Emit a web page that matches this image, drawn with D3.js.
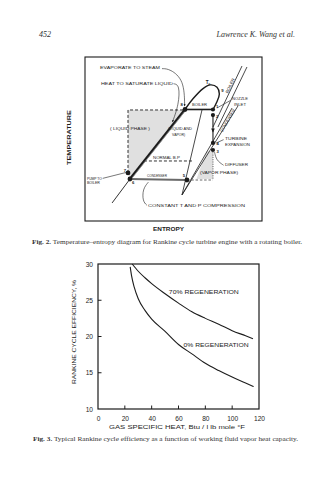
<!DOCTYPE html>
<html><head><meta charset="utf-8">
<script src="https://cdn.jsdelivr.net/npm/d3@7"></script>
<style>body{margin:0;background:#fff}svg{display:block}</style>
</head><body><svg id="page" width="335" height="480"></svg>
<script>
// ---- Fig. 3: Rankine cycle efficiency vs. gas specific heat ----
const heatCapacity0 = [24, 25, 27, 30, 35, 40, 50, 60, 70, 80, 90, 100, 110, 116];
const efficiency0   = [29.6, 28.4, 26.8, 25.2, 23.6, 22.4, 20.7, 18.9, 17.6, 16.3, 15.3, 14.4, 13.6, 13.1];
const heatCapacity70 = [25.5, 30, 35, 40, 50, 60, 70, 80, 90, 100, 110, 115.5];
const efficiency70   = [30.0, 29.0, 28.1, 27.3, 25.9, 24.6, 23.4, 22.5, 21.7, 20.8, 20.1, 19.7];
const xTickValues = [0, 20, 40, 60, 80, 100, 120];
const yTickValues = [10, 15, 20, 25, 30];
const seriesNames = ["0% REGENERATION", "70% REGENERATION"];

// ---- Fig. 2: temperature–entropy schematic (entropy s, temperature T, 0–100 units) ----
const cyclePoints = [ // name, s, T
  ["B", 56.5, 68.0], ["C", 72.3, 68.0], ["2", 72.3, 64.6], ["4", 72.3, 47.6],
  ["3", 72.3, 43.3], ["5", 57.6, 25.0], ["6", 25.4, 25.6], ["7", 24.3, 29.3]
];
const liquidLine = [[15.3, 11.0], [25.4, 25.6], [56.5, 68.0]];
const domeLine = [[56.5, 68.0], [61.0, 74.5], [66.5, 80.6], [70.8, 83.0], [74.6, 81.6], [75.9, 77.4], [74.4, 72.4], [72.3, 68.0]];
const liquidRegion = [[24.3, 67.7], [56.0, 67.7], [25.4, 25.6], [24.3, 29.3]];
const vaporRegion = [[68.6, 42.5], [72.3, 42.5], [72.3, 25.6], [63.0, 25.6]];
const normalBPLine = [[33.3, 36.6], [60.5, 36.6]];
const vaporLines = [
  [[66.1, 67.7], [54.8, 15.9]],
  [[54.8, 15.9], [83.1, 68.9]],
  [[54.8, 15.9], [86.4, 70.1]],
  [[72.3, 57.3], [88.7, 94.5]],
  [[75.1, 57.3], [91.5, 93.9]]
];
const labelsFig2 = [ // text, s, T, width
  ["EVAPORATE TO STEAM", 8.5, 92.4, 60],
  ["HEAT TO SATURATE LIQUID", 9.0, 83.2, 72],
  ["( LIQUID PHASE )", 14.1, 55.2, 40],
  ["(LIQUID AND", 46.9, 55.2, 24],
  ["VAPOR)", 49.2, 52.1, 13],
  ["NORMAL B.P", 38.4, 38.1, 27],
  ["BOILER", 60.5, 70.4, 15],
  ["NOZZLE", 83.1, 73.5, 16],
  ["INLET", 84.2, 70.4, 12],
  ["TURBINE", 79.1, 49.1, 22],
  ["EXPANSION", 79.1, 46.0, 25],
  ["DIFFUSER", 79.1, 33.8, 23],
  ["(VAPOR PHASE)", 65.0, 28.4, 38],
  ["CONDENSER", 35.0, 27.1, 20],
  ["PUMP TO", 1.1, 25.3, 15],
  ["BOILER", 1.1, 22.3, 13],
  ["CONSTANT  T  AND  P  COMPRESSION", 35.6, 8.8, 97]
];
const pointLabels = [ // text, s, T
  ["8", 54.0, 70.1], ["1", 74.0, 68.9], ["2", 74.0, 62.8], ["4", 74.3, 46.3],
  ["3", 74.3, 41.6], ["5", 55.2, 27.0], ["6", 26.6, 22.4], ["7", 21.9, 29.9], ["9", 77.0, 78.6]
];

const svg = d3.select("#page");
const sans = "'Liberation Sans', Arial, sans-serif";
const serif = "'Liberation Serif', 'Times New Roman', serif";
const ink = "#1c1c1c";

// page header
svg.append("text").attr("x", 39).attr("y", 37).attr("font-family", serif).attr("font-style", "italic")
  .attr("font-size", 8).attr("fill", "#333").text("452");
svg.append("text").attr("x", 295).attr("y", 37).attr("text-anchor", "end").attr("font-family", serif)
  .attr("font-style", "italic").attr("font-size", 8).attr("fill", "#333").text("Lawrence K. Wang et al.");

// ================= Fig. 2 =================
const box = {x0: 85, x1: 262, y0: 57, y1: 221};
const sScale = d3.scaleLinear().domain([0, 100]).range([box.x0, box.x1]);
const tScale = d3.scaleLinear().domain([0, 100]).range([box.y1, box.y0]);
const g2 = svg.append("g");
const line2 = d3.line().x(d => sScale(d[0])).y(d => tScale(d[1]));
const curve2 = d3.line().curve(d3.curveBasis).x(d => sScale(d[0])).y(d => tScale(d[1]));

svg.append("defs").append("marker").attr("id", "arr").attr("viewBox", "0 0 10 10")
  .attr("refX", 9).attr("refY", 5).attr("markerWidth", 4).attr("markerHeight", 4)
  .attr("orient", "auto").append("path").attr("d", "M0,1L10,5L0,9Z").attr("fill", ink);

g2.append("rect").attr("x", box.x0).attr("y", box.y0).attr("width", box.x1 - box.x0)
  .attr("height", box.y1 - box.y0).attr("fill", "none").attr("stroke", ink).attr("stroke-width", 1.1);

// shaded phase regions
[liquidRegion, vaporRegion].forEach(r => g2.append("path").attr("d", line2(r) + "Z")
  .attr("fill", "#e0e0e0").attr("stroke", "none"));
// dashed boundary of the liquid region
g2.append("path").attr("d", line2([[24.3, 29.3], [24.3, 67.7], [56.0, 67.7]]))
  .attr("fill", "none").attr("stroke", ink).attr("stroke-width", 0.9).attr("stroke-dasharray", "3,2");
g2.append("path").attr("d", line2(normalBPLine)).attr("fill", "none").attr("stroke", ink)
  .attr("stroke-width", 0.9).attr("stroke-dasharray", "3,2");

// isobars and compression lines
vaporLines.forEach(l => g2.append("path").attr("d", line2(l)).attr("fill", "none")
  .attr("stroke", ink).attr("stroke-width", 0.8));

// saturated liquid line (double stroke)
g2.append("path").attr("d", line2(liquidLine)).attr("fill", "none").attr("stroke", ink).attr("stroke-width", 0.9);
g2.append("path").attr("d", line2(liquidLine.slice(1))).attr("fill", "none").attr("stroke", ink).attr("stroke-width", 2.6);
g2.append("path").attr("d", line2(liquidLine.slice(1))).attr("fill", "none").attr("stroke", "#bbb")
  .attr("stroke-width", 0.6).attr("transform", "translate(0.9,0.5)");

// dome: boiling over the critical point
g2.append("path").attr("d", d3.line().curve(d3.curveCatmullRom).x(d => sScale(d[0])).y(d => tScale(d[1]))(domeLine))
  .attr("fill", "none").attr("stroke", ink).attr("stroke-width", 1.4);
// boiler line
const pt = Object.fromEntries(cyclePoints.map(d => [d[0], [d[1], d[2]]]));
g2.append("path").attr("d", line2([pt.B, pt.C])).attr("stroke", ink).attr("stroke-width", 1.6);
// turbine expansion
g2.append("path").attr("d", line2([pt["2"], [72.3, 54]])).attr("stroke", ink).attr("stroke-width", 1.1)
  .attr("marker-end", "url(#arr)");
g2.append("path").attr("d", line2([[72.3, 54], pt["4"]])).attr("stroke", ink).attr("stroke-width", 1.1);
// diffuser (dotted) and vapor-side condenser (dashed)
g2.append("path").attr("d", line2([pt["3"], [72.3, 25.3]])).attr("stroke", "#555")
  .attr("stroke-width", 1).attr("stroke-dasharray", "1,1.3");
g2.append("path").attr("d", line2([pt["5"], [72.3, 25.0]])).attr("stroke", "#666")
  .attr("stroke-width", 1).attr("stroke-dasharray", "2.5,1.8");
// condenser
g2.append("path").attr("d", line2([pt["6"], pt["5"]])).attr("stroke", "#6a6a6a").attr("stroke-width", 1.8);

// cycle state points
g2.selectAll("circle.state").data(cyclePoints).join("circle")
  .attr("cx", d => sScale(d[1])).attr("cy", d => tScale(d[2]))
  .attr("r", d => (d[0] === "2" || d[0] === "3" || d[0] === "C" || d[0] === "4") ? 2.1 : 2.4).attr("fill", ink);

// leaders
const leaders = [
  [[43.5, 92.9], [48, 92.8], [56, 86], [56.3, 70]],
  [[50.0, 83.7], [53.5, 83.0], [53.0, 71], [49.4, 60.3]],
  [[10.0, 26.0], [23.2, 29.6]],
  [[82.2, 73.5], [74.5, 68.9]],
  [[78.3, 49.6], [73.8, 47.4]],
  [[78.3, 34.0], [74.2, 37], [73.2, 42]],
  [[35.8, 23.7], [32.6, 19.5], [32.6, 12], [35.0, 9.6]]
];
leaders.forEach((l, i) => g2.append("path").attr("d", curve2(l))
  .attr("fill", "none").attr("stroke", ink).attr("stroke-width", 0.6)
  .attr("marker-end", i < 2 ? "url(#arr)" : null));

// labels
g2.selectAll("text.lab").data(labelsFig2).join("text")
  .attr("x", d => sScale(d[1])).attr("y", d => tScale(d[2])).attr("textLength", d => d[3])
  .attr("lengthAdjust", "spacingAndGlyphs")
  .attr("font-family", sans).attr("font-size", 4.2).attr("fill", ink).text(d => d[0]);
g2.selectAll("text.pl").data(pointLabels).join("text")
  .attr("x", d => sScale(d[1])).attr("y", d => tScale(d[2]))
  .attr("font-family", sans).attr("font-size", 4.2).attr("font-weight", "bold").attr("fill", ink).text(d => d[0]);
// critical temperature label
const tc = g2.append("text").attr("x", sScale(68.2)).attr("y", tScale(83.6))
  .attr("font-family", sans).attr("font-size", 4.6).attr("font-weight", "bold").attr("fill", ink);
tc.append("tspan").text("T");
tc.append("tspan").attr("dy", 1.4).attr("font-size", 3.2).text("c");

// rotated isobar names
[["BOILER", 82.0, 82.5, -64, 16], ["CONDENSER", 80.6, 61.2, -60, 26]].forEach(d => {
  g2.append("text").attr("transform", `translate(${sScale(d[1])},${tScale(d[2])}) rotate(${d[3]})`)
    .attr("text-anchor", "middle").attr("dy", 1.4).attr("textLength", d[4]).attr("lengthAdjust", "spacingAndGlyphs")
    .attr("font-family", sans).attr("font-size", 4.2).attr("fill", ink).text(d[0]);
});

// axis titles
g2.append("text").attr("transform", `translate(71,${(box.y0 + box.y1) / 2 - 1.5}) rotate(-90)`)
  .attr("text-anchor", "middle").attr("textLength", 55).attr("lengthAdjust", "spacingAndGlyphs")
  .attr("font-family", sans).attr("font-size", 5.4).attr("font-weight", "bold").attr("fill", ink).text("TEMPERATURE");
g2.append("text").attr("x", 168.5).attr("y", 230.5).attr("text-anchor", "middle").attr("textLength", 31)
  .attr("lengthAdjust", "spacingAndGlyphs").attr("font-family", sans).attr("font-size", 5.6)
  .attr("font-weight", "bold").attr("fill", ink).text("ENTROPY");

// caption
const cap2 = svg.append("text").attr("x", 32).attr("y", 243.5).attr("textLength", 270)
  .attr("lengthAdjust", "spacingAndGlyphs").attr("font-family", serif).attr("font-size", 6.6).attr("fill", "#333");
cap2.append("tspan").attr("font-weight", "bold").text("Fig. 2.");
cap2.append("tspan").text("  Temperature\u2013entropy diagram for Rankine cycle turbine engine with a rotating boiler.");

// ================= Fig. 3 =================
const x = d3.scaleLinear().domain([0, 120]).range([98, 259]);
const y = d3.scaleLinear().domain([10, 30]).range([409, 264]);
const g3 = svg.append("g");

g3.append("rect").attr("x", x(0)).attr("y", y(30)).attr("width", x(120) - x(0)).attr("height", y(10) - y(30))
  .attr("fill", "none").attr("stroke", ink).attr("stroke-width", 1.2);

const xAxis = d3.axisBottom(x).tickValues(xTickValues).tickSize(0).tickPadding(7).tickFormat(d3.format("d"));
const yAxis = d3.axisLeft(y).tickValues(yTickValues).tickSize(0).tickPadding(5).tickFormat(d3.format("d"));
const gx = g3.append("g").attr("transform", `translate(0,${y(10)})`).call(xAxis);
const gy = g3.append("g").attr("transform", `translate(${x(0)},0)`).call(yAxis);
[gx, gy].forEach(a => {
  a.select(".domain").remove();
  a.selectAll("text").attr("font-family", sans).attr("font-size", 6.6).attr("fill", ink);
});
// inward tick marks
g3.selectAll("line.xt").data(xTickValues.slice(1, -1)).join("line")
  .attr("x1", d => x(d)).attr("x2", d => x(d)).attr("y1", y(10)).attr("y2", y(10) - 3.5)
  .attr("stroke", ink).attr("stroke-width", 1);
g3.selectAll("line.yt").data(yTickValues.slice(1, -1)).join("line")
  .attr("x1", x(0)).attr("x2", x(0) + 3.5).attr("y1", d => y(d)).attr("y2", d => y(d))
  .attr("stroke", ink).attr("stroke-width", 1);

const curve = d3.line().curve(d3.curveMonotoneX).x(d => x(d[0])).y(d => y(d[1]));
const series = [
  d3.zip(heatCapacity0, efficiency0),
  d3.zip(heatCapacity70, efficiency70)
];
series.forEach(s => g3.append("path").attr("d", curve(s)).attr("fill", "none")
  .attr("stroke", ink).attr("stroke-width", 1.1));

// series labels
[[seriesNames[1], 52.8, 25.8, 70], [seriesNames[0], 63.8, 18.5, 65]].forEach(d => {
  g3.append("text").attr("x", x(d[1])).attr("y", y(d[2])).attr("textLength", d[3])
    .attr("lengthAdjust", "spacingAndGlyphs").attr("font-family", sans).attr("font-size", 6.2)
    .attr("fill", ink).text(d[0]);
});

// axis titles
g3.append("text").attr("transform", `translate(75.5,332) rotate(-90)`).attr("text-anchor", "middle")
  .attr("textLength", 104).attr("lengthAdjust", "spacingAndGlyphs").attr("font-family", sans)
  .attr("font-size", 6.2).attr("fill", ink).text("RANKINE  CYCLE  EFFICIENCY, %");
g3.append("text").attr("x", 177).attr("y", 428.5).attr("text-anchor", "middle").attr("textLength", 136)
  .attr("lengthAdjust", "spacingAndGlyphs").attr("font-family", sans).attr("font-size", 6.2)
  .attr("fill", ink).text("GAS  SPECIFIC  HEAT, Btu / l lb mole \u00b0F");

const cap3 = svg.append("text").attr("x", 33).attr("y", 441).attr("textLength", 265)
  .attr("lengthAdjust", "spacingAndGlyphs").attr("font-family", serif).attr("font-size", 6.6).attr("fill", "#333");
cap3.append("tspan").attr("font-weight", "bold").text("Fig. 3.");
cap3.append("tspan").text("  Typical Rankine cycle efficiency as a function of working fluid vapor heat capacity.");
</script></body></html>
